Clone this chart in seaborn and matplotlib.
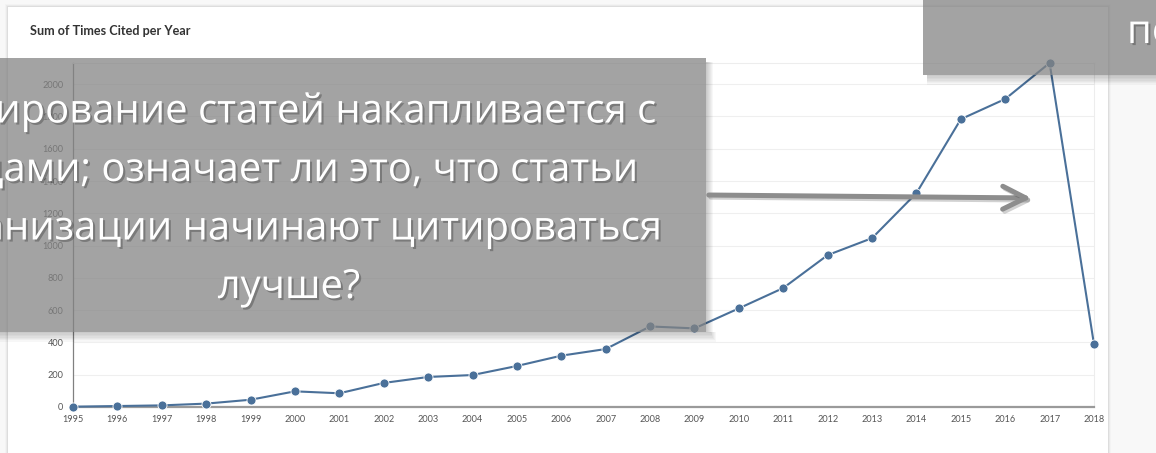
import matplotlib
matplotlib.use("Agg")
import matplotlib.pyplot as plt
import matplotlib.patheffects as pe
from matplotlib.patches import Rectangle, FancyArrowPatch
import seaborn as sns
import pandas as pd

# ---- data -------------------------------------------------------------
years = list(range(1995, 2019))
times_cited = [2, 6, 10, 21, 45, 97, 85, 149, 186, 198, 254, 318, 359,
               499, 487, 611, 737, 941, 1046, 1325, 1783, 1908, 2131, 388]
y_ticks = list(range(0, 2001, 200))
chart_title = "Sum of Times Cited per Year"
callout_lines = ["Цитирование статей накапливается с",
                 "годами; означает ли это, что статьи",
                 "организации начинают цитироваться",
                 "лучше?"]
corner_note = "почему?"

df = pd.DataFrame({"year": years, "cited": times_cited})

# ---- figure -------------------------------------------------------------
W, H = 1156, 453
sns.set_theme(style="white")
plt.rcParams["font.family"] = ["Lato", "DejaVu Sans"]

fig = plt.figure(figsize=(W / 100, H / 100), dpi=100)
fig.patch.set_facecolor("#f8f8f8")


def fx(x):
    return x / W


def fy(y):
    return 1 - y / H


# card with soft shadow
for i, a in enumerate([0.05, 0.035, 0.02]):
    fig.add_artist(Rectangle((fx(8 - i - 1), -0.1), fx(1100 + 2 * i + 2), fy(7 - i - 1) + 0.1,
                             transform=fig.transFigure, facecolor="black",
                             edgecolor="none", alpha=a, zorder=-3))
fig.add_artist(Rectangle((fx(8), -0.1), fx(1100), fy(7) + 0.1,
                         transform=fig.transFigure, facecolor="white",
                         edgecolor="none", zorder=-2))

fig.text(fx(30), fy(31), chart_title, fontsize=9.1, fontweight="bold",
         color="#333333", va="center", ha="left", family="Lato")

# ---- line chart ----------------------------------------------------------
ax = fig.add_axes([fx(73), fy(407), fx(1094 - 73), (407 - 63) / H])
ax.patch.set_alpha(0)

sns.lineplot(data=df, x="year", y="cited", ax=ax, color="#4a7099",
             linewidth=1.5, marker="o", markersize=6.5,
             markeredgecolor="white", markeredgewidth=0.6, clip_on=False,
             zorder=3)

ax.set_xlim(1995, 2018)
ax.set_ylim(0, max(times_cited))
ax.set_xticks(years)
ax.set_xticklabels([str(y) for y in years])
ax.set_yticks(y_ticks)
ax.set_yticklabels([str(v) for v in y_ticks])
ax.set_xlabel("")
ax.set_ylabel("")
ax.grid(axis="y", color="#efefef", linewidth=0.8)
ax.grid(axis="x", visible=False)
ax.set_axisbelow(True)

for lab in ax.get_xticklabels() + ax.get_yticklabels():
    lab.set_fontsize(6.6)
    lab.set_color("#555555")
    lab.set_family("Lato")

ax.tick_params(axis="both", direction="out", length=4, width=0.8,
               color="#888888", pad=2)
ax.tick_params(axis="y", pad=3)
ax.spines["left"].set_color("#808080")
ax.spines["left"].set_linewidth(0.9)
ax.spines["bottom"].set_color("#9a9a9a")
ax.spines["bottom"].set_linewidth(1.6)
for s in ("top", "right"):
    ax.spines[s].set_color("#ededed")
    ax.spines[s].set_linewidth(0.8)

# ---- overlay callouts -------------------------------------------------------
def callout_box(x0, y0, x1, y1):
    # soft drop shadow along the bottom and right edges
    for i in range(1, 8):
        fig.add_artist(Rectangle((fx(x0 + 4), fy(y1 + i * 1.4)),
                                 fx(x1 - x0 + i * 0.8), i * 1.4 / H,
                                 transform=fig.transFigure, facecolor="black",
                                 edgecolor="none", alpha=0.03, zorder=5))
        fig.add_artist(Rectangle((fx(x1), fy(y1)), fx(i * 1.0), (y1 - y0 - 4) / H,
                                 transform=fig.transFigure, facecolor="black",
                                 edgecolor="none", alpha=0.03, zorder=5))
    fig.add_artist(Rectangle((fx(x0), fy(y1)), fx(x1 - x0), (y1 - y0) / H,
                             transform=fig.transFigure, facecolor="#838383",
                             edgecolor="none", alpha=0.74, zorder=6))


callout_box(-20, 58, 706, 332)
callout_box(923, -20, 1180, 75)

text_shadow = [pe.withSimplePatchShadow(offset=(1.5, -1.5),
                                        shadow_rgbFace="black", alpha=0.25)]
line_gap = 58.5
for k, line in enumerate(callout_lines):
    fig.text(fx(289), fy(298 - line_gap * (3 - k)), line, fontsize=28.8,
             family="Open Sans", color="white", ha="center",
             va="baseline", zorder=8, path_effects=text_shadow)

fig.text(fx(1127), fy(43), corner_note, fontsize=28.8, family="Open Sans",
         color="white", ha="left", va="baseline", zorder=8,
         path_effects=text_shadow)

arrow = FancyArrowPatch((fx(706), fy(195)), (fx(1034), fy(198)),
                        transform=fig.transFigure,
                        arrowstyle="->,head_length=1.5,head_width=0.75",
                        mutation_scale=11, linewidth=3.6, color="#8d8d8d",
                        capstyle="round", joinstyle="round", zorder=7,
                        path_effects=[pe.SimpleLineShadow(offset=(1.5, -1.5),
                                                          alpha=0.2),
                                      pe.Normal()])
fig.add_artist(arrow)

fig.savefig("out.png", dpi=100)
